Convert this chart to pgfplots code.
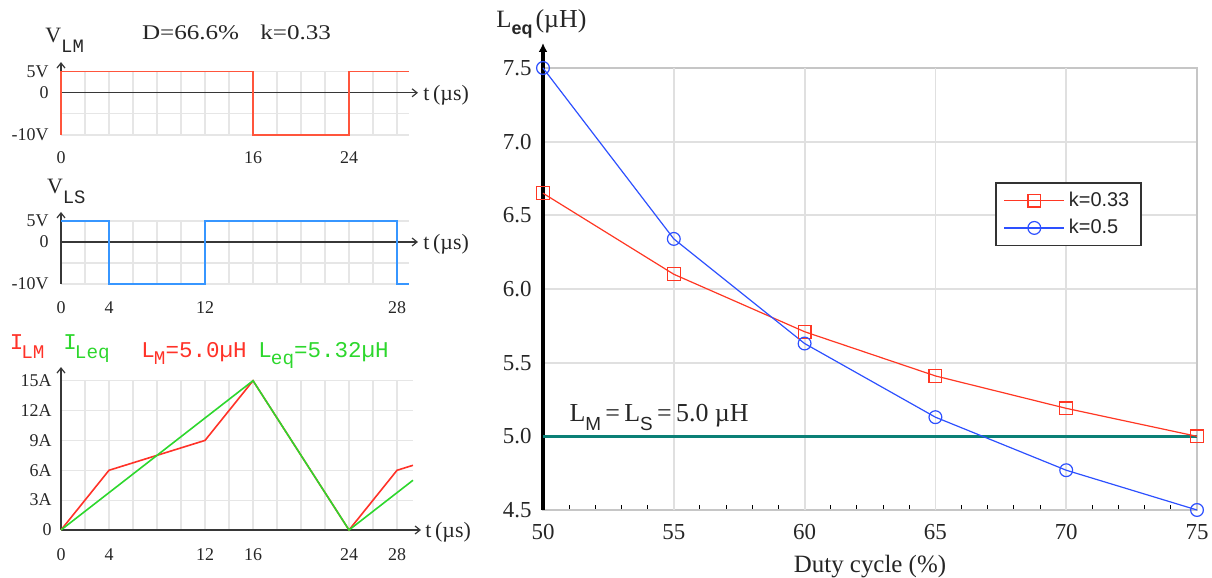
\documentclass[border=0pt]{standalone}
\usepackage{fontspec}
\setmainfont{Liberation Serif}
\newfontfamily\monof{Liberation Mono}
\newfontfamily\sansf{Liberation Sans}
\usepackage{graphicx}
\usepackage{pgfplots}
\pgfplotsset{compat=1.18}
\usetikzlibrary{arrows.meta}
\pgfkeys{/pgf/number format/assume math mode=true}
\definecolor{vlm}{RGB}{255,85,60}
\definecolor{vls}{RGB}{55,150,255}
\definecolor{ilm}{RGB}{255,50,40}
\definecolor{ileq}{RGB}{45,215,45}
\definecolor{rk}{RGB}{255,55,35}
\definecolor{bk}{RGB}{45,80,255}
\definecolor{tealL}{RGB}{10,128,118}
\definecolor{gridc}{RGB}{230,230,230}
\definecolor{gridr}{RGB}{224,224,224}
\definecolor{axc}{RGB}{55,55,55}
\pgfplotsset{
  leftpanel/.style={
    scale only axis, anchor=south west, clip=false,
    axis line style={draw=none},
    grid=major, grid style={gridc, line width=0.6bp},
    tick style={draw=none},
    xtick pos=left, ytick pos=left,
    xtick={0,2,...,28},
    tick label style={font=\fontsize{9}{10}\selectfont, text=black!85},
    xticklabel style={anchor=north, inner sep=0pt},
    yticklabel style={anchor=east, inner sep=0pt},
  }
}
\begin{document}
\begin{tikzpicture}
\useasboundingbox (0,0) rectangle (606bp,289bp);

% ---------- V_LM panel ----------
\begin{axis}[leftpanel, at={(30.5bp,221.5bp)}, width=174bp, height=31.65bp,
  xmin=0, xmax=29, ymin=-10, ymax=5,
  xticklabels={0,,,,,,,,16,,,,24,,},
  ytick={-10,-5,0,5}, yticklabels={-10V,,0,5V},
  xticklabel style={yshift=-8bp}, yticklabel style={xshift=-6bp}]
\draw[axc, line width=0.6bp, -{Straight Barb[length=2.5bp,width=4bp]}] (axis cs:0,0) -- ([xshift=4.5bp]axis cs:29,0);
\draw[axc, line width=0.6bp, -{Straight Barb[length=2.5bp,width=4bp]}] (axis cs:0,-10) -- ([yshift=4.8bp]axis cs:0,5);
\addplot[vlm, line width=0.8bp] coordinates {(0,-10)(0,5)(16,5)(16,-10)(24,-10)(24,5)(29,5)};
\node[anchor=west, inner sep=0pt, font=\fontsize{11}{12}\selectfont, text=black!85] at ([xshift=7bp,yshift=-1bp]axis cs:29,0) {t\,(µs)};
\end{axis}

% ---------- V_LS panel ----------
\begin{axis}[leftpanel, at={(30.5bp,147bp)}, width=174bp, height=31.5bp,
  xmin=0, xmax=29, ymin=-10, ymax=5,
  xticklabels={0,,4,,,,12,,,,,,,,28},
  ytick={-10,-5,0,5}, yticklabels={-10V,,0,5V},
  xticklabel style={yshift=-8.5bp}, yticklabel style={xshift=-6bp}]
\draw[axc, line width=0.6bp, -{Straight Barb[length=2.5bp,width=4bp]}] (axis cs:0,0) -- ([xshift=4.5bp]axis cs:29,0);
\draw[axc, line width=0.6bp, -{Straight Barb[length=2.5bp,width=4bp]}] (axis cs:0,-10) -- ([yshift=4.5bp]axis cs:0,5);
\addplot[vls, line width=0.8bp] coordinates {(0,5)(4,5)(4,-10)(12,-10)(12,5)(28,5)(28,-10)(29,-10)};
\node[anchor=west, inner sep=0pt, font=\fontsize{11}{12}\selectfont, text=black!85] at ([xshift=7bp,yshift=-1bp]axis cs:29,0) {t\,(µs)};
\end{axis}

% ---------- current panel ----------
\begin{axis}[leftpanel, at={(30.5bp,24bp)}, width=176bp, height=74.65bp,
  xmin=0, xmax=29.33, ymin=0, ymax=15,
  xticklabels={0,,4,,,,12,,16,,,,24,,28},
  ytick={0,3,...,15}, yticklabels={0,3A,6A,9A,12A,15A},
  xticklabel style={yshift=-9bp}, yticklabel style={xshift=-4.5bp}]
\draw[axc, line width=0.6bp, -{Straight Barb[length=2.5bp,width=4bp]}] (axis cs:0,0) -- ([xshift=4bp]axis cs:29.33,0);
\draw[axc, line width=0.6bp, -{Straight Barb[length=2.5bp,width=4bp]}] (axis cs:0,0) -- ([yshift=6.8bp]axis cs:0,15);
\addplot[ilm, line width=0.8bp] coordinates {(0,0)(4,6)(12,9)(16,15)(24,0)(28,6)(29.33,6.5)};
\addplot[ileq, line width=0.8bp] coordinates {(0,0)(16,15)(24,0)(29.33,5)};
\node[anchor=west, inner sep=0pt, font=\fontsize{11}{12}\selectfont, text=black!85] at ([xshift=6bp,yshift=-1bp]axis cs:29.33,0) {t\,(µs)};
\end{axis}

% ---------- right chart: bottom ticks only ----------
\begin{axis}[at={(271.5bp,34bp)}, anchor=south west, scale only axis,
  width=327bp, height=221bp,
  xmin=50, xmax=75, ymin=4.5, ymax=7.5,
  hide y axis, axis x line*=bottom, axis line style={draw=none},
  xtick={55,60,...,70}, minor xtick={51,52,53,54,56,57,58,59,61,62,63,64,66,67,68,69,71,72,73,74},
  xticklabels={},
  tick align=inside, major tick length=6bp, minor tick length=2.5bp,
  tick style={draw=black, line width=0.5bp}]
\end{axis}

% ---------- right chart ----------
\begin{axis}[at={(271.5bp,34bp)}, anchor=south west, scale only axis,
  width=327bp, height=221bp, clip=false,
  xmin=50, xmax=75, ymin=4.5, ymax=7.5,
  xtick={50,55,...,75}, ytick={4.5,5,...,7.5},
  ymajorgrids, grid style={gridr, line width=0.9bp},
  axis line style={draw=gray!45, line width=0.9bp},
  xtick pos=left, ytick pos=left,
  tick style={draw=none},
  tick label style={font=\fontsize{11.5}{12}\selectfont, text=black!85},
  xticklabel style={anchor=north, inner sep=0pt, yshift=-7bp},
  yticklabel style={anchor=east, inner sep=0pt, xshift=-5.5bp,
    /pgf/number format/.cd, fixed, fixed zerofill, precision=1},
  xlabel={Duty cycle (\%)},
  xlabel style={at={(axis description cs:0.5,0)}, anchor=base, yshift=-31bp,
    font=\fontsize{12.5}{14}\selectfont, inner sep=0pt, text=black!85},
  legend style={at={(0.691,0.742)}, anchor=north west, draw=black!80,
    line width=0.8bp, font=\sansf\fontsize{10}{12}\selectfont, text=black!85,
    inner xsep=4bp, inner ysep=2.5bp, row sep=1bp, cells={anchor=west}},
  legend image code/.code={\draw[#1, mark repeat=2, mark phase=2, line width=0.6bp]
    plot coordinates {(0bp,0bp)(15bp,0bp)(30bp,0bp)};},
]
\draw[gridr, line width=0.9bp] (axis cs:55,4.5) -- (axis cs:55,7.5);
\draw[gridr, line width=0.9bp] (axis cs:60,4.5) -- (axis cs:60,7.5);
\draw[gridr, line width=0.9bp] (axis cs:65,4.5) -- (axis cs:65,7.5);
\draw[gridr, line width=0.9bp] (axis cs:70,4.5) -- (axis cs:70,7.5);
\draw[black, line width=1.6bp, -{Latex[length=4.5bp,width=4.5bp]}] (axis cs:50,4.5) -- ([yshift=12.5bp]axis cs:50,7.5);
\addplot[tealL, line width=1.6bp, forget plot] coordinates {(50,5)(75,5)};
\addplot[rk, line width=0.6bp, mark=square, mark size=3.2bp, mark options={solid, line width=0.6bp}]
  coordinates {(50,6.65)(55,6.10)(60,5.71)(65,5.41)(70,5.19)(75,5.00)};
\addlegendentry{k=0.33}
\addplot[bk, line width=0.6bp, mark=o, mark size=3.2bp, mark options={solid, line width=0.6bp}]
  coordinates {(50,7.50)(55,6.34)(60,5.63)(65,5.13)(70,4.77)(75,4.50)};
\addlegendentry{k=0.5}
\node[anchor=base west, inner sep=0pt, font=\fontsize{13}{14}\selectfont, text=black!85]
  at ([yshift=7.2bp]axis cs:51,5)
  {L\raisebox{-4.5bp}{\sansf\fontsize{9.5}{11}\selectfont M}\,=\,L\raisebox{-4.5bp}{\sansf\fontsize{9.5}{11}\selectfont S}\,=\,5.0 µH};
\end{axis}

% ---------- free labels ----------
\node[anchor=base west, inner sep=0pt, text=black!85] at (248bp,275bp)
  {\fontsize{12.5}{14}\selectfont L\raisebox{-3.5bp}{\sansf\bfseries\fontsize{9}{10}\selectfont eq}\kern1.5bp\fontsize{13}{14}\selectfont(µH)};
\node[anchor=base west, inner sep=0pt, text=black!85] at (70.8bp,269.3bp)
  {\fontsize{10.5}{12}\selectfont\scalebox{1.2}[1]{D=66.6\%}};
\node[anchor=base west, inner sep=0pt, text=black!85] at (130bp,269.3bp)
  {\fontsize{10.5}{12}\selectfont\scalebox{1.2}[1]{k=0.33}};
\node[anchor=base west, inner sep=0pt, text=black!85] at (22.5bp,267.5bp)
  {\fontsize{11}{12}\selectfont V\raisebox{-5bp}{\monof\fontsize{9.5}{10}\selectfont LM}};
\node[anchor=base west, inner sep=0pt, text=black!85] at (23.3bp,192.3bp)
  {\fontsize{11}{12}\selectfont V\raisebox{-5bp}{\monof\fontsize{9.5}{10}\selectfont LS}};
\node[anchor=base west, inner sep=0pt, text=ilm] at (4.7bp,114bp)
  {\monof\fontsize{11.3}{12}\selectfont I\kern-1bp\raisebox{-4.2bp}{\fontsize{9.7}{10}\selectfont LM}};
\node[anchor=base west, inner sep=0pt, text=ileq] at (31.5bp,114bp)
  {\monof\fontsize{11.3}{12}\selectfont I\kern-1bp\raisebox{-4.2bp}{\fontsize{9.7}{10}\selectfont Leq}};
\node[anchor=base west, inner sep=0pt, text=ilm] at (70.5bp,110bp)
  {\monof\fontsize{11.3}{12}\selectfont L\kern-0.5bp\raisebox{-3.5bp}{\fontsize{9.7}{10}\selectfont M}=5.0µH};
\node[anchor=base west, inner sep=0pt, text=ileq] at (129bp,110bp)
  {\monof\fontsize{11.3}{12}\selectfont L\kern-0.5bp\raisebox{-3.5bp}{\fontsize{9.7}{10}\selectfont eq}=5.32µH};
\end{tikzpicture}
\end{document}
